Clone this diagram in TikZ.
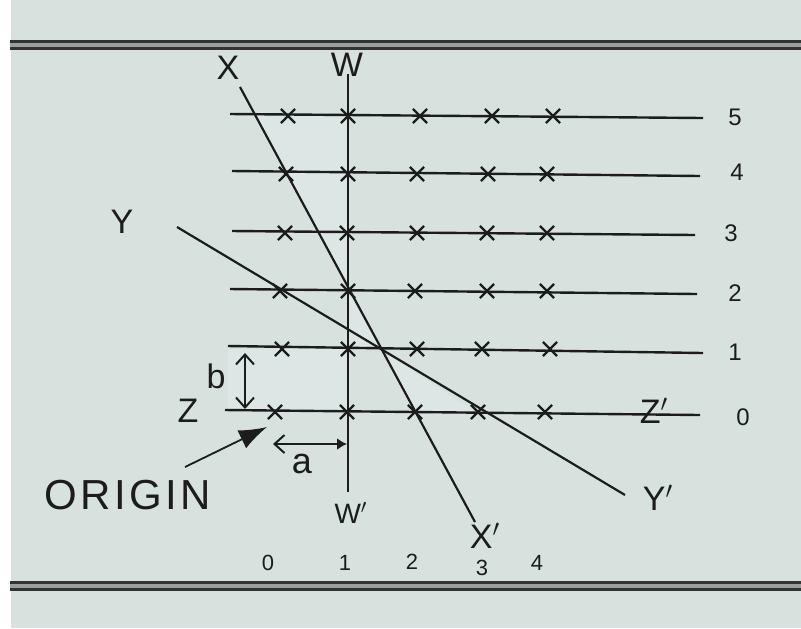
\documentclass[tikz,border=0pt]{standalone}
\usepackage{fontspec}
\setmainfont{Liberation Sans}
\usetikzlibrary{arrows.meta, shapes.misc}
\definecolor{paper}{HTML}{D7E2DF}
\definecolor{paperlight}{HTML}{DCE6E4}
\definecolor{ink}{HTML}{1C1C1C}
\definecolor{rulegray}{HTML}{9A9E9C}
\tikzset{
  rowline/.style={line width=1.2pt, ink},
  axisline/.style={line width=1.1pt, ink},
  ruleline/.style={line width=1.4pt, ink!90},
  xmark/.style={cross out, draw=ink, line width=1.1pt, minimum size=6pt, inner sep=0pt},
  lbl/.style={font=\fontsize{17}{17}\selectfont, text=ink, inner sep=0pt},
  num/.style={font=\fontsize{11}{11}\selectfont, text=ink, inner sep=0pt},
  bdim/.style={line width=1pt, ink, {Straight Barb[length=5pt,width=9pt]}-{Straight Barb[length=5pt,width=9pt]}},
  adim/.style={line width=1pt, ink, {Straight Barb[length=5pt,width=9pt]}-{Latex[length=5pt,width=6pt]}},
  ptr/.style={line width=0.9pt, ink, -{Latex[length=14pt,width=10pt]}},
}

\begin{document}
\begin{tikzpicture}[x=0.5pt, y=-0.5pt]
\useasboundingbox (0,0) rectangle (801,628);
\fill[white] (0,0) rectangle (801,628);
\fill[paper] (11,0) rectangle (801,628);

% page rules
\foreach \y in {45,586} {
  \fill[rulegray] (10,\y-4.5) rectangle (801,\y+4.5);
  \draw[ruleline] (10,\y-3.5) -- (801,\y-3.5);
  \draw[ruleline] (10,\y+3.5) -- (801,\y+3.5);
}

% faint light patches
\fill[paperlight] (253,115) -- (348,115) -- (348,286) -- cycle;
\fill[paperlight] (228,349) rectangle (348,412);
\fill[paperlight] (348,288) -- (379,346) -- (348,346) -- cycle;
\fill[paperlight] (381,350) -- (414,412) -- (476,412) -- cycle;

% grid rows 0..5
\foreach \r/\xa/\ya/\xb/\yb/\ny/\nx in {5/230/114/703/118/117/735, 4/232/171/700/176/172/737,
    3/232/231/695/235/233/731, 2/230/289/697/294/293/735, 1/228/346/703/353/352/735,
    0/225/410/700/415/417/743} {
  \coordinate (r\r w) at (\xa,\ya);
  \coordinate (r\r e) at (\xb,\yb);
  \draw[rowline] (r\r w) -- (r\r e);
  \node[num, font=\fontsize{12}{12}\selectfont] (n\r) at (\nx,\ny) {\r};
}

% crosses on the rows
\foreach \r/\y/\xs in {5/116/{288,348,420,492,553}, 4/174/{286,348,417,488,547},
    3/233/{285,347,417,487,547}, 2/291/{280,348,415,487,547},
    1/349/{282,348,417,482,550}, 0/412/{275,347,415,478,545}} {
  \foreach \x [count=\i from 0] in \xs
    \node[xmark] (m\r-\i) at (\x,\y) {};
}

% lines
\coordinate (wtop) at (348,74);
\coordinate (wbot) at (348,492);
\coordinate (xtop) at (240,87);
\coordinate (xbot) at (475,522);
\coordinate (ytop) at (177,227);
\coordinate (ybot) at (625,495);
\draw[axisline] (wtop) -- (wbot);
\draw[axisline] (xtop) -- (xbot);
\draw[axisline] (ytop) -- (ybot);

% labels
\node[lbl] (X) at (228,68) {X};
\node[lbl] (W) at (347,65) {W};
\node[lbl] (Y) at (122,222) {Y};
\node[lbl] (Z) at (188,411) {Z};
\node[lbl] (Zp) at (654,411) {Z$'$};
\node[lbl, font=\fontsize{14}{14}\selectfont] (Wp) at (351,513) {W$'$};
\node[lbl] (Xp) at (485,536) {X$'$};
\node[lbl] (Yp) at (658,498) {Y$'$};

% a and b
\coordinate (btop) at (245,353);
\coordinate (bbot) at (245,409);
\draw[bdim] (btop) -- (bbot);
\node[lbl] (b) at (216,376) {b};
\coordinate (aleft) at (273,444);
\coordinate (aright) at (347,444);
\draw[adim] (aleft) -- (aright);
\node[lbl, font=\fontsize{18}{18}\selectfont] (a) at (302,464) {a};

% origin
\node[text=ink, inner sep=0pt, font=\fontsize{21}{21}\selectfont\addfontfeature{LetterSpace=8}] (origin) at (128,495) {ORIGIN};
\coordinate (otail) at (185,467);
\coordinate (otip) at (267,427);
\draw[ptr] (otail) -- (otip);

% column numbers
\foreach \n/\x/\y in {0/268/563, 1/345/563, 2/412/562, 3/482/568, 4/537/563}
  \node[num] (c\n) at (\x,\y) {\n};

\end{tikzpicture}
\end{document}
